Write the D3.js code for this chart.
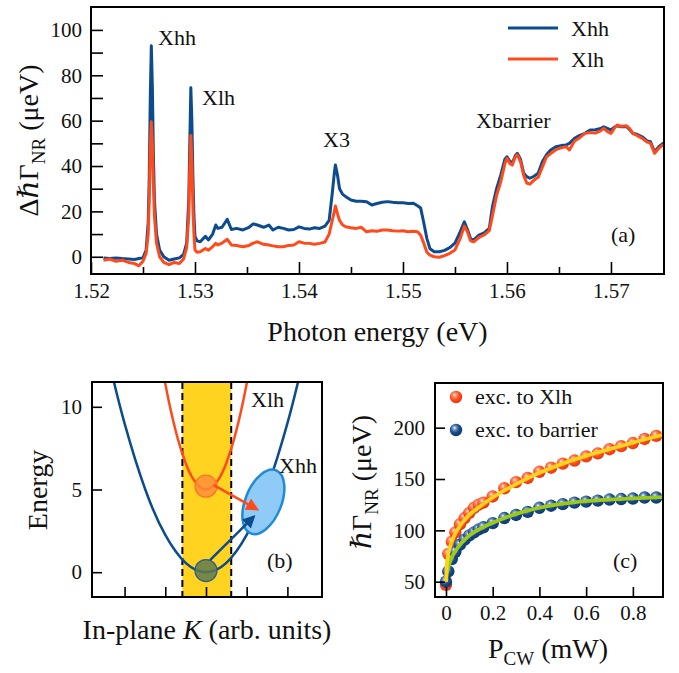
<!DOCTYPE html>
<html>
<head>
<meta charset="utf-8">
<script src="https://cdn.jsdelivr.net/npm/d3@7"></script>
<style>
  body { margin: 0; background: #fff; }
  text { font-family: "Liberation Serif", "DejaVu Serif", serif; fill: #111; }
</style>
</head>
<body>
<svg id="fig" width="679" height="673"></svg>
<script>
// ---------- data: panel (a), nonradiative broadening change vs photon energy
var energy = [
  1.5212,1.5218,1.5224,1.5230,1.5236,1.5242,1.5246,1.5250,1.5253,1.5255,
  1.5256,1.5257,1.5258,1.5259,1.5260,1.5261,1.5263,1.5266,1.5270,1.5275,
  1.5280,1.5285,1.5289,1.5292,1.5294,1.5295,1.5296,1.5297,1.5298,1.5299,
  1.5300,1.5302,1.5305,1.5310,1.5313,1.5317,1.5320,1.5322,1.5326,1.5331,
  1.5335,1.5340,1.5346,1.5352,1.5356,1.5360,1.5366,1.5371,1.5375,1.5380,
  1.5385,1.5390,1.5395,1.5400,1.5405,1.5410,1.5415,1.5420,1.5425,1.5429,
  1.5432,1.5434,1.5435,1.5437,1.5439,1.5442,1.5445,1.5450,1.5455,1.5460,
  1.5465,1.5470,1.5475,1.5480,1.5485,1.5490,1.5495,1.5500,1.5505,1.5510,
  1.5514,1.5517,1.5520,1.5523,1.5526,1.5530,1.5535,1.5540,1.5545,1.5550,
  1.5555,1.5559,1.5562,1.5565,1.5568,1.5573,1.5578,1.5583,1.5586,1.5590,
  1.5594,1.5598,1.5600,1.5603,1.5605,1.5608,1.5610,1.5613,1.5616,1.5619,
  1.5622,1.5626,1.5630,1.5634,1.5638,1.5642,1.5647,1.5652,1.5657,1.5660,
  1.5665,1.5670,1.5675,1.5680,1.5685,1.5690,1.5693,1.5697,1.5700,1.5703,
  1.5706,1.5710,1.5715,1.5718,1.5721,1.5725,1.5730,1.5735,1.5738,1.5742,
  1.5746,1.5750,1.5752
];
var xhhShift = [
  -0.5,-0.8,-0.5,-0.8,-1.0,-1.2,-0.8,-0.5,3,15,
  35,70,93,75,45,25,10,3,0,-1.5,
  -1.0,-0.5,1,6,25,50,74.5,60,35,18,
  9,7,6.6,9,7.4,10,14,12.5,13,16.5,
  12,12.5,11.8,13,14.5,14,13,14,11.8,13,
  12.5,11.8,12,13.2,12.5,12.2,12.8,12.5,13.5,16,
  28,37,40.5,36,30,27.5,26.5,25,24.5,24.5,
  24.3,22.8,23.5,24,24.3,24,23.8,23.8,23.5,23.6,
  22.5,21.5,15,8,3.5,2.2,2.2,2.8,4,6,
  11,15.4,12,8,7.4,9.5,10.5,12.5,22,30,
  36,43,44.1,42,41.2,44.5,45.6,43,37,35.3,
  34.6,35.5,36.8,41.9,45,47.1,48.5,49,49.3,50,
  52.2,53.5,54.4,55.9,56,56.5,57.3,56.5,55.9,57,
  57.7,57.3,57.3,56,54.4,54,52.9,51,50.7,46.3,
  48.5,50,50
];
var xlhShift = [
  -1.5,-1.0,-2.0,-1.5,-2.5,-3.0,-4.0,-2.0,1.5,10,
  25,48,59.5,50,32,18,6,0,-2.5,-3.5,
  -2.5,-3.0,-1,4,18,38,53.5,42,22,10,
  3,2,2.2,3.6,2.9,4.5,5.9,5.2,6,7.7,
  5.2,5,4.4,5,6,6.6,5.5,5.2,4.8,4.4,
  4.4,5,5.2,6.6,6,5.9,5.5,5.9,6.5,10,
  16,20,22.4,19,16,14,13.2,12.8,12.5,13,
  11,11.5,11.2,11.8,11.8,11.5,11.3,11.5,11,11.2,
  11,9.5,6,2,0.7,0,-0.2,0.5,1.5,3,
  8,13.5,11,7,6.6,8.5,9.6,11.5,18,27,
  33,41,43.4,41,40.4,44,44.9,42,36,32.5,
  32,33.8,35,39.5,44,45.5,47.2,48,48.5,47.1,
  51,52.5,54.4,54.8,54.5,55.5,56.6,55,54.4,56.5,
  58.1,57.5,57.7,56.5,54.4,53.5,52.2,50.5,50,45.6,
  47.8,49.3,49.5
];
var energyTicks = [1.52, 1.53, 1.54, 1.55, 1.56, 1.57];
var energyMinor = [1.525, 1.535, 1.545, 1.555, 1.565];
var shiftTicks = [0, 20, 40, 60, 80, 100];
var shiftMinor = [10, 30, 50, 70, 90];

// ---------- data: panel (b), dispersion sketch
var kHh = [-2.3, -2, -1.5, -1, -0.5, 0, 0.5, 1, 1.5, 2, 2.3];
var eHh = [11.9, 9, 5.06, 2.25, 0.56, 0, 0.56, 2.25, 5.06, 9, 11.9];
var kLh = [-1.05, -0.9, -0.7, -0.5, -0.3, 0, 0.3, 0.5, 0.7, 0.9, 1.05];
var eLh = [12.06, 10.18, 8.14, 6.6, 5.58, 5, 5.58, 6.6, 8.14, 10.18, 12.06];
var kTicks = [-2, -1, 0, 1, 2];
var energyTicksB = [0, 5, 10];

// ---------- data: panel (c), broadening vs CW power
var powerPts = [0, 0.01, 0.025, 0.04, 0.06, 0.08, 0.1, 0.12, 0.14, 0.16, 0.2, 0.25, 0.3,
  0.35, 0.4, 0.45, 0.5, 0.55, 0.6, 0.65, 0.7, 0.75, 0.8, 0.85, 0.9];
var gammaXlh = [47, 77, 89, 98, 106, 112, 117, 122, 125, 127, 133, 141, 147,
  151, 157, 161, 165, 168, 172, 175, 179, 182, 185, 189, 192];
var gammaBarrier = [50, 60, 72, 79, 86, 91, 95, 98, 101, 103, 107, 112, 115,
  118, 122, 124, 125.5, 127, 128, 129, 130, 130.5, 131, 132, 132];
var powerFit = [0, 0.003, 0.01, 0.02, 0.05, 0.1, 0.15, 0.2, 0.3, 0.4, 0.5, 0.6, 0.7, 0.8, 0.93];
var fitXlh = [50, 65, 77, 86, 101, 115, 124, 132, 145, 156, 165, 172.5, 179, 185.5, 193];
var fitBarrier = [50, 57, 64, 71, 83, 95, 102, 107.5, 116, 122, 126, 128.5, 130, 131.2, 132.3];
var powerTicks = [0, 0.2, 0.4, 0.6, 0.8];
var gammaTicks = [50, 100, 150, 200];

var BLUE = "#0c4b8e", RED = "#ff4a1c";
var SERIF = "Liberation Serif, DejaVu Serif, serif";
var svg = d3.select("#fig");
var defs = svg.append("defs");

function styleAxis(g) {
  g.select(".domain").remove();
  g.attr("font-size", 21).attr("font-family", SERIF);
  g.selectAll(".tick line").attr("stroke", "#000").attr("stroke-width", 1.6);
}
function frame(x0, y0, x1, y1) {
  svg.append("rect").attr("x", x0).attr("y", y0).attr("width", x1 - x0).attr("height", y1 - y0)
    .attr("fill", "none").attr("stroke", "#000").attr("stroke-width", 2);
}
function clip(id, x0, y0, x1, y1) {
  defs.append("clipPath").attr("id", id).append("rect")
    .attr("x", x0).attr("y", y0).attr("width", x1 - x0).attr("height", y1 - y0);
}
function label(x, y, s) {
  return svg.append("text").attr("x", x).attr("y", y).attr("font-size", 22)
    .attr("font-family", SERIF).text(s);
}

// ================= panel (a)
var xa = d3.scaleLinear().domain([1.52, 1.5751]).range([91, 664]);
var ya = d3.scaleLinear().domain([-7.6, 110.1]).range([274, 7]);
clip("clipA", 91, 7, 664, 274);

var lineA = function(vals) {
  return d3.line().x(function(d, i) { return xa(energy[i]); })
    .y(function(d) { return ya(d); })(vals);
};
var gA = svg.append("g").attr("clip-path", "url(#clipA)");
gA.append("path").attr("d", lineA(xhhShift)).attr("fill", "none").attr("stroke", BLUE)
  .attr("stroke-width", 3).attr("stroke-linejoin", "round");
gA.append("path").attr("d", lineA(xlhShift)).attr("fill", "none").attr("stroke", RED)
  .attr("stroke-width", 3).attr("stroke-linejoin", "round");

svg.append("g").attr("transform", "translate(0,274)")
  .call(d3.axisBottom(xa).tickValues(energyTicks).tickSizeInner(-12).tickSizeOuter(0)
    .tickPadding(9).tickFormat(d3.format(".2f"))).call(styleAxis);
svg.append("g").attr("transform", "translate(0,274)")
  .call(d3.axisBottom(xa).tickValues(energyMinor).tickSizeInner(-7).tickSizeOuter(0)
    .tickFormat("")).call(styleAxis);
svg.append("g").attr("transform", "translate(91,0)")
  .call(d3.axisLeft(ya).tickValues(shiftTicks).tickSizeInner(-12).tickSizeOuter(0)
    .tickPadding(9)).call(styleAxis);
svg.append("g").attr("transform", "translate(91,0)")
  .call(d3.axisLeft(ya).tickValues(shiftMinor).tickSizeInner(-12).tickSizeOuter(0)
    .tickFormat("")).call(styleAxis);
frame(91, 7, 664, 274);

// legend (a)
[["Xhh", BLUE, 28], ["Xlh", RED, 59]].forEach(function(l) {
  svg.append("line").attr("x1", 508).attr("x2", 558).attr("y1", l[2]).attr("y2", l[2])
    .attr("stroke", l[1]).attr("stroke-width", 3);
  label(571, l[2] + 8, l[0]);
});
[["Xhh", 158, 45], ["Xlh", 202, 105], ["X3", 323, 147], ["Xbarrier", 476, 128], ["(a)", 611, 242]]
  .forEach(function(t) { label(t[1], t[2], t[0]); });

svg.append("text").attr("x", 377.5).attr("y", 341).attr("text-anchor", "middle")
  .attr("font-family", SERIF).attr("font-size", 28).text("Photon energy (eV)");
var tA = svg.append("text").attr("transform", "translate(38,140.5) rotate(-90)")
  .attr("text-anchor", "middle").attr("font-family", SERIF).attr("font-size", 28);
tA.append("tspan").text("Δ");
tA.append("tspan").attr("font-style", "italic").text("ℏ");
tA.append("tspan").text("Γ");
tA.append("tspan").attr("font-size", 19).attr("dy", 7).text("NR");
tA.append("tspan").attr("dy", -7).text(" (μeV)");

// ================= panel (b)
var xb = d3.scaleLinear().domain([-2.8, 2.85]).range([92, 322]);
var yb = d3.scaleLinear().domain([-1.5, 11.5]).range([597, 382]);
clip("clipB", 92, 382, 322, 597);
var gB = svg.append("g").attr("clip-path", "url(#clipB)");

gB.append("rect").attr("x", xb(-0.58)).attr("y", 382).attr("width", xb(0.62) - xb(-0.58))
  .attr("height", 215).attr("fill", "#ffd320");
[-0.58, 0.62].forEach(function(k) {
  gB.append("line").attr("x1", xb(k)).attr("x2", xb(k)).attr("y1", 382).attr("y2", 597)
    .attr("stroke", "#000").attr("stroke-width", 2).attr("stroke-dasharray", "7,4");
});

var bandLine = function(ks, es) {
  return d3.line().curve(d3.curveNatural).x(function(d, i) { return xb(ks[i]); })
    .y(function(d) { return yb(d); })(es);
};
gB.append("path").attr("d", bandLine(kHh, eHh)).attr("fill", "none").attr("stroke", BLUE).attr("stroke-width", 2.5);
gB.append("path").attr("d", bandLine(kLh, eLh)).attr("fill", "none").attr("stroke", RED).attr("stroke-width", 2.5);

gB.append("ellipse").attr("transform", "translate(" + xb(1.41) + "," + yb(4.25) + ") rotate(22)")
  .attr("rx", 18).attr("ry", 34).attr("fill", "#8fcbf6").attr("stroke", "#1f8ad6").attr("stroke-width", 2.5);

gB.append("circle").attr("cx", xb(0)).attr("cy", yb(5.2)).attr("r", 11)
  .attr("fill", "#ff8c3c").attr("fill-opacity", 0.8).attr("stroke", "#ff7424").attr("stroke-width", 1.2);
gB.append("circle").attr("cx", xb(0)).attr("cy", yb(0.1)).attr("r", 11)
  .attr("fill", "#5f7a4e").attr("fill-opacity", 0.85).attr("stroke", "#2d5d8c").attr("stroke-width", 1.2);

[["arrR", RED], ["arrB", BLUE]].forEach(function(m) {
  defs.append("marker").attr("id", m[0]).attr("viewBox", "0 0 10 10").attr("refX", 8).attr("refY", 5)
    .attr("markerWidth", 13).attr("markerHeight", 13).attr("markerUnits", "userSpaceOnUse")
    .attr("orient", "auto").append("path").attr("d", "M0,0 L10,5 L0,10 z").attr("fill", m[1]);
});
gB.append("line").attr("x1", xb(0.19)).attr("y1", yb(5.26)).attr("x2", xb(1.25)).attr("y2", yb(3.81))
  .attr("stroke", RED).attr("stroke-width", 2.5).attr("marker-end", "url(#arrR)");
gB.append("line").attr("x1", xb(0.1)).attr("y1", yb(0.73)).attr("x2", xb(1.17)).attr("y2", yb(3.35))
  .attr("stroke", BLUE).attr("stroke-width", 2.5).attr("marker-end", "url(#arrB)");

svg.append("g").attr("transform", "translate(0,597)")
  .call(d3.axisBottom(xb).tickValues(kTicks).tickSizeInner(-10).tickSizeOuter(0).tickFormat(""))
  .call(styleAxis);
svg.append("g").attr("transform", "translate(92,0)")
  .call(d3.axisLeft(yb).tickValues(energyTicksB).tickSizeInner(-10).tickSizeOuter(0).tickPadding(10))
  .call(styleAxis);
frame(92, 382, 322, 597);

[["Xlh", 251, 407], ["Xhh", 279, 473], ["(b)", 267, 568]].forEach(function(t) { label(t[1], t[2], t[0]); });
svg.append("text").attr("transform", "translate(47,490) rotate(-90)").attr("text-anchor", "middle")
  .attr("font-family", SERIF).attr("font-size", 28).text("Energy");
var tB = svg.append("text").attr("x", 207).attr("y", 639).attr("text-anchor", "middle")
  .attr("font-family", SERIF).attr("font-size", 28);
tB.append("tspan").text("In-plane ");
tB.append("tspan").attr("font-style", "italic").text("K");
tB.append("tspan").text(" (arb. units)");

// ================= panel (c)
var xc = d3.scaleLinear().domain([-0.047, 0.929]).range([435, 663]);
var yc = d3.scaleLinear().domain([35.1, 243.5]).range([597, 383]);
clip("clipC", 435, 383, 663, 597);

function sphere(id, base, light, dark) {
  var gr = defs.append("radialGradient").attr("id", id).attr("cx", "40%").attr("cy", "38%").attr("r", "62%")
    .attr("fx", "38%").attr("fy", "32%");
  gr.append("stop").attr("offset", "0%").attr("stop-color", "#ffffff");
  gr.append("stop").attr("offset", "22%").attr("stop-color", light);
  gr.append("stop").attr("offset", "60%").attr("stop-color", base);
  gr.append("stop").attr("offset", "100%").attr("stop-color", dark);
}
sphere("sphR", "#ff4d1e", "#ff9470", "#e8380c");
sphere("sphB", "#174b8a", "#7a9cc4", "#0e3a70");

var gC = svg.append("g").attr("clip-path", "url(#clipC)");
gC.selectAll("circle.r").data(gammaXlh).enter().append("circle").attr("class", "r")
  .attr("cx", function(d, i) { return xc(powerPts[i]); }).attr("cy", function(d) { return yc(d); })
  .attr("r", 6.2).attr("fill", "url(#sphR)");
gC.selectAll("circle.b").data(gammaBarrier).enter().append("circle").attr("class", "b")
  .attr("cx", function(d, i) { return xc(powerPts[i]); }).attr("cy", function(d) { return yc(d); })
  .attr("r", 6.2).attr("fill", "url(#sphB)");

var fitLine = function(vals) {
  return d3.line().curve(d3.curveMonotoneX).x(function(d, i) { return xc(powerFit[i]); })
    .y(function(d) { return yc(d); })(vals);
};
gC.append("path").attr("d", fitLine(fitBarrier)).attr("fill", "none").attr("stroke", "#9cc91c").attr("stroke-width", 3.8);
gC.append("path").attr("d", fitLine(fitXlh)).attr("fill", "none").attr("stroke", "#ffd21c").attr("stroke-width", 3.8);

svg.append("g").attr("transform", "translate(0,597)")
  .call(d3.axisBottom(xc).tickValues(powerTicks).tickSizeInner(-10).tickSizeOuter(0).tickPadding(8)
    .tickFormat(function(d) { return d === 0 ? "0" : d3.format(".1f")(d); }))
  .call(styleAxis);
svg.append("g").attr("transform", "translate(435,0)")
  .call(d3.axisLeft(yc).tickValues(gammaTicks).tickSizeInner(-10).tickSizeOuter(0).tickPadding(10))
  .call(styleAxis);
frame(435, 383, 663, 597);

[["exc. to Xlh", "url(#sphR)", 397], ["exc. to barrier", "url(#sphB)", 430]].forEach(function(l) {
  svg.append("circle").attr("cx", 456).attr("cy", l[2]).attr("r", 6.2).attr("fill", l[1]);
  label(475, l[2] + 7, l[0]);
});
label(613, 568, "(c)");

var tC = svg.append("text").attr("transform", "translate(371,482) rotate(-90)")
  .attr("text-anchor", "middle").attr("font-family", SERIF).attr("font-size", 28);
tC.append("tspan").attr("font-style", "italic").text("ℏ");
tC.append("tspan").text("Γ");
tC.append("tspan").attr("font-size", 19).attr("dy", 7).text("NR");
tC.append("tspan").attr("dy", -7).text(" (μeV)");

var tX = svg.append("text").attr("x", 548).attr("y", 658).attr("text-anchor", "middle")
  .attr("font-family", SERIF).attr("font-size", 28);
tX.append("tspan").text("P");
tX.append("tspan").attr("font-size", 19).attr("dy", 7).text("CW");
tX.append("tspan").attr("dy", -7).text(" (mW)");
</script>
</body>
</html>
